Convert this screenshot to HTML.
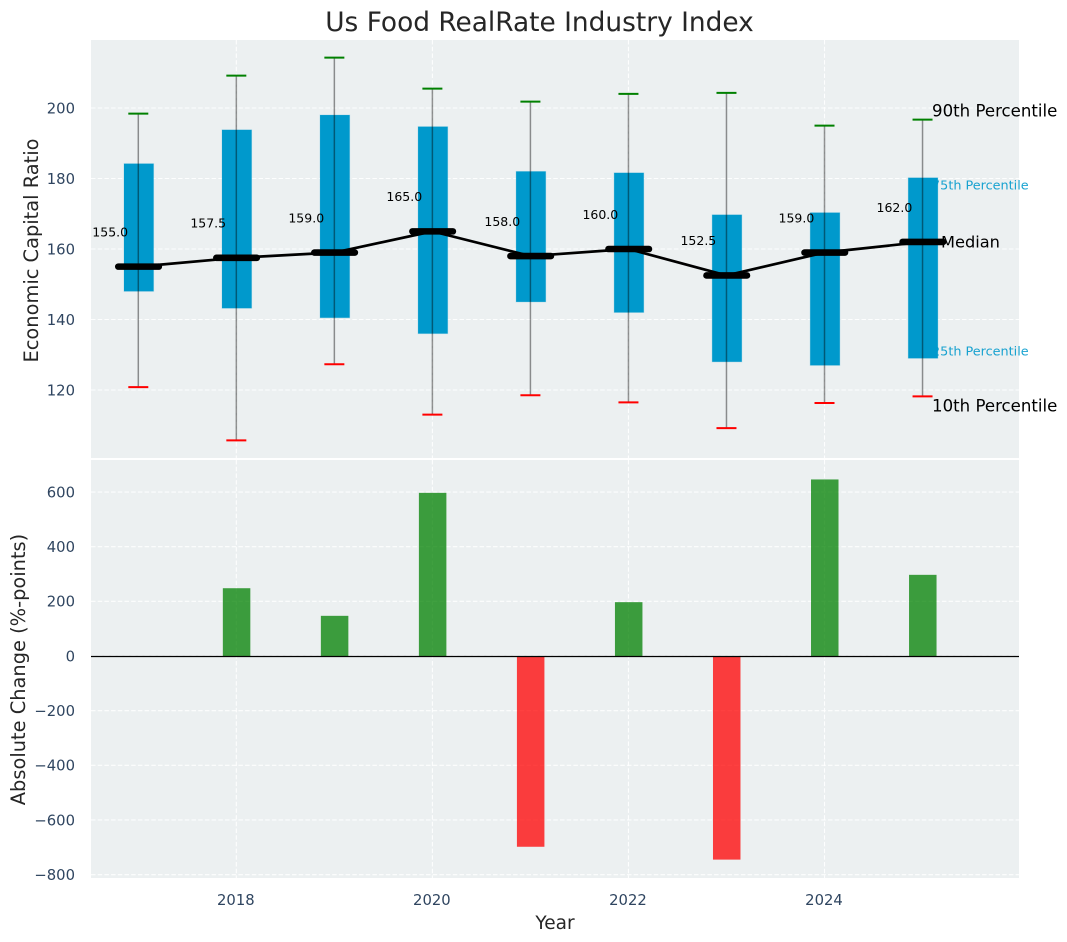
<!DOCTYPE html>
<html lang="en">
<head>
<meta charset="utf-8">
<title>Us Food RealRate Industry Index</title>
<style>
html,body{margin:0;padding:0;background:#fff;}
svg{display:block;font-family:"DejaVu Sans","Liberation Sans",sans-serif;}
</style>
</head>
<body>
<svg id="chart" xmlns="http://www.w3.org/2000/svg" width="1067" height="942" viewBox="0 0 1067 942"></svg>
<script>
const years = [2017, 2018, 2019, 2020, 2021, 2022, 2023, 2024, 2025];
const p90 = [198.4, 209.2, 214.3, 205.5, 201.8, 204.0, 204.3, 195.0, 196.7];
const q75 = [184.2, 193.8, 198.0, 194.7, 182.0, 181.6, 169.7, 170.3, 180.2];
const medians = [155.0, 157.5, 159.0, 165.0, 158.0, 160.0, 152.5, 159.0, 162.0];
const q25 = [148.0, 143.2, 140.5, 136.0, 145.0, 142.0, 128.0, 127.0, 129.0];
const p10 = [120.8, 105.7, 127.3, 113.0, 118.5, 116.5, 109.2, 116.3, 118.2];
const changes = [null, 248, 147, 597, -698, 197, -745, 646, 297];
const xTicks = [2018, 2020, 2022, 2024];
const topTicks = [120, 140, 160, 180, 200];
const bottomTicks = [-800, -600, -400, -200, 0, 200, 400, 600];

const svg = document.getElementById('chart');
const NS = 'http://www.w3.org/2000/svg';
const PANEL_LEFT = 91, PANEL_W = 928;
const TOP_Y = 40, TOP_H = 418, BOT_Y = 460, BOT_H = 418;

function xScale(y) { return 138.3 + (y - 2017) * 98.03; }
function yTop(v) { return 390 - (v - 120) * 3.525; }
function yBot(v) { return 656 - v * 0.2733; }

function mk(tag, attrs, text) {
  const el = document.createElementNS(NS, tag);
  for (const k in attrs) el.setAttribute(k, attrs[k]);
  if (text !== undefined) el.textContent = text;
  svg.appendChild(el);
  return el;
}
function gridStyle() {
  return { stroke: '#ffffff', 'stroke-width': 1.1, 'stroke-dasharray': '4.5 2.2', 'stroke-opacity': 0.9 };
}

let el;

el = mk('rect', { x: PANEL_LEFT, y: TOP_Y, width: PANEL_W, height: TOP_H, fill: '#ecf0f1' });



el = mk('rect', { x: PANEL_LEFT, y: BOT_Y, width: PANEL_W, height: BOT_H, fill: '#ecf0f1' });



topTicks.forEach(function (t) {
  const g = mk('line', Object.assign({ x1: PANEL_LEFT, x2: PANEL_LEFT + PANEL_W, y1: yTop(t), y2: yTop(t) }, gridStyle()));
  
  
  const l = mk('text', { x: 75, y: yTop(t) + 5.3, 'text-anchor': 'end', 'font-size': 14.8, fill: '#2f4560' }, String(t));
  
  
});

bottomTicks.forEach(function (t) {
  const g = mk('line', Object.assign({ x1: PANEL_LEFT, x2: PANEL_LEFT + PANEL_W, y1: yBot(t), y2: yBot(t) }, gridStyle()));
  
  
  const label = t < 0 ? '\u2212' + Math.abs(t) : String(t);
  const l = mk('text', { x: 75, y: yBot(t) + 5.3, 'text-anchor': 'end', 'font-size': 14.8, fill: '#2f4560' }, label);
  
  
});

xTicks.forEach(function (t) {
  const g1 = mk('line', Object.assign({ x1: xScale(t), x2: xScale(t), y1: TOP_Y, y2: TOP_Y + TOP_H }, gridStyle()));
  
  
  const g2 = mk('line', Object.assign({ x1: xScale(t), x2: xScale(t), y1: BOT_Y, y2: BOT_Y + BOT_H }, gridStyle()));
  
  
  const l = mk('text', { x: xScale(t) - 0.5, y: 905, 'text-anchor': 'middle', 'font-size': 14.8, fill: '#2f4560' }, String(t));
  
  
});

const last = years.length - 1;
const lastX = xScale(years[last]);

el = mk('text', { x: lastX + 9.5, y: yTop(q75[last]) + 11.5, 'font-size': 12.8, fill: '#0099cc', 'fill-opacity': 0.9 }, '75th Percentile');



el = mk('text', { x: lastX + 9.5, y: yTop(q25[last]) - 3, 'font-size': 12.8, fill: '#0099cc', 'fill-opacity': 0.9 }, '25th Percentile');



years.forEach(function (yr, i) {
  const x = xScale(yr);
  const box = mk('rect', { x: x - 14.3, y: yTop(q75[i]), width: 29.6, height: yTop(q25[i]) - yTop(q75[i]), fill: '#0099cc', stroke: '#0099cc', 'stroke-opacity': 0.2, 'stroke-width': 1 });
  
  
});

years.forEach(function (yr, i) {
  const x = xScale(yr);
  const w = mk('line', { x1: x, x2: x, y1: yTop(p90[i]), y2: yTop(p10[i]), stroke: '#000000', 'stroke-opacity': 0.42, 'stroke-width': 1.5 });
  
  
  const hi = mk('line', { x1: x - 10, x2: x + 10, y1: yTop(p90[i]), y2: yTop(p90[i]), stroke: '#008000', 'stroke-width': 2 });
  
  
  const lo = mk('line', { x1: x - 10, x2: x + 10, y1: yTop(p10[i]), y2: yTop(p10[i]), stroke: '#ff0000', 'stroke-width': 2 });
  
  
});

el = mk('polyline', {
  points: years.map(function (yr, i) { return xScale(yr) + ',' + yTop(medians[i]); }).join(' '),
  fill: 'none', stroke: '#000000', 'stroke-width': 2.7, 'stroke-linejoin': 'round'
});



years.forEach(function (yr, i) {
  const x = xScale(yr);
  const m = mk('line', { x1: x - 20, x2: x + 20.5, y1: yTop(medians[i]), y2: yTop(medians[i]), stroke: '#000000', 'stroke-width': 6.6, 'stroke-linecap': 'round' });
  
  
  const l = mk('text', { x: x - 46, y: yTop(medians[i]) - 30.2, 'font-size': 12.5, fill: '#000000' }, medians[i].toFixed(1));
  
  
});

el = mk('text', { x: lastX + 9.5, y: yTop(p90[last]) - 3, 'font-size': 16.6, fill: '#000000' }, '90th Percentile');



el = mk('text', { x: lastX + 18.5, y: yTop(medians[last]) + 5.5, 'font-size': 16.2, fill: '#000000' }, 'Median');



el = mk('text', { x: lastX + 9.5, y: yTop(p10[last]) + 15, 'font-size': 16.6, fill: '#000000' }, '10th Percentile');



years.forEach(function (yr, i) {
  if (changes[i] === null) return;
  const x = xScale(yr);
  const y0 = yBot(Math.max(changes[i], 0));
  const y1 = yBot(Math.min(changes[i], 0));
  const b = mk('rect', { x: x - 13.5, y: y0, width: 27.5, height: y1 - y0, fill: changes[i] >= 0 ? '#008000' : '#ff0000', 'fill-opacity': 0.75 });
  
  
});

el = mk('line', { x1: PANEL_LEFT, x2: PANEL_LEFT + PANEL_W, y1: 656.5, y2: 656.5, stroke: '#000000', 'stroke-width': 1.2 });



el = mk('text', { x: 539.5, y: 31, 'text-anchor': 'middle', 'font-size': 26.4, fill: '#262626' }, 'Us Food RealRate Industry Index');



el = mk('text', { x: 555, y: 929, 'text-anchor': 'middle', 'font-size': 18.5, fill: '#262626' }, 'Year');



el = mk('text', { transform: 'translate(38 250.5) rotate(-90)', 'text-anchor': 'middle', 'font-size': 19.4, fill: '#262626' }, 'Economic Capital Ratio');



el = mk('text', { transform: 'translate(25 669.5) rotate(-90)', 'text-anchor': 'middle', 'font-size': 19.4, fill: '#262626' }, 'Absolute Change (%-points)');


</script>
</body>
</html>
